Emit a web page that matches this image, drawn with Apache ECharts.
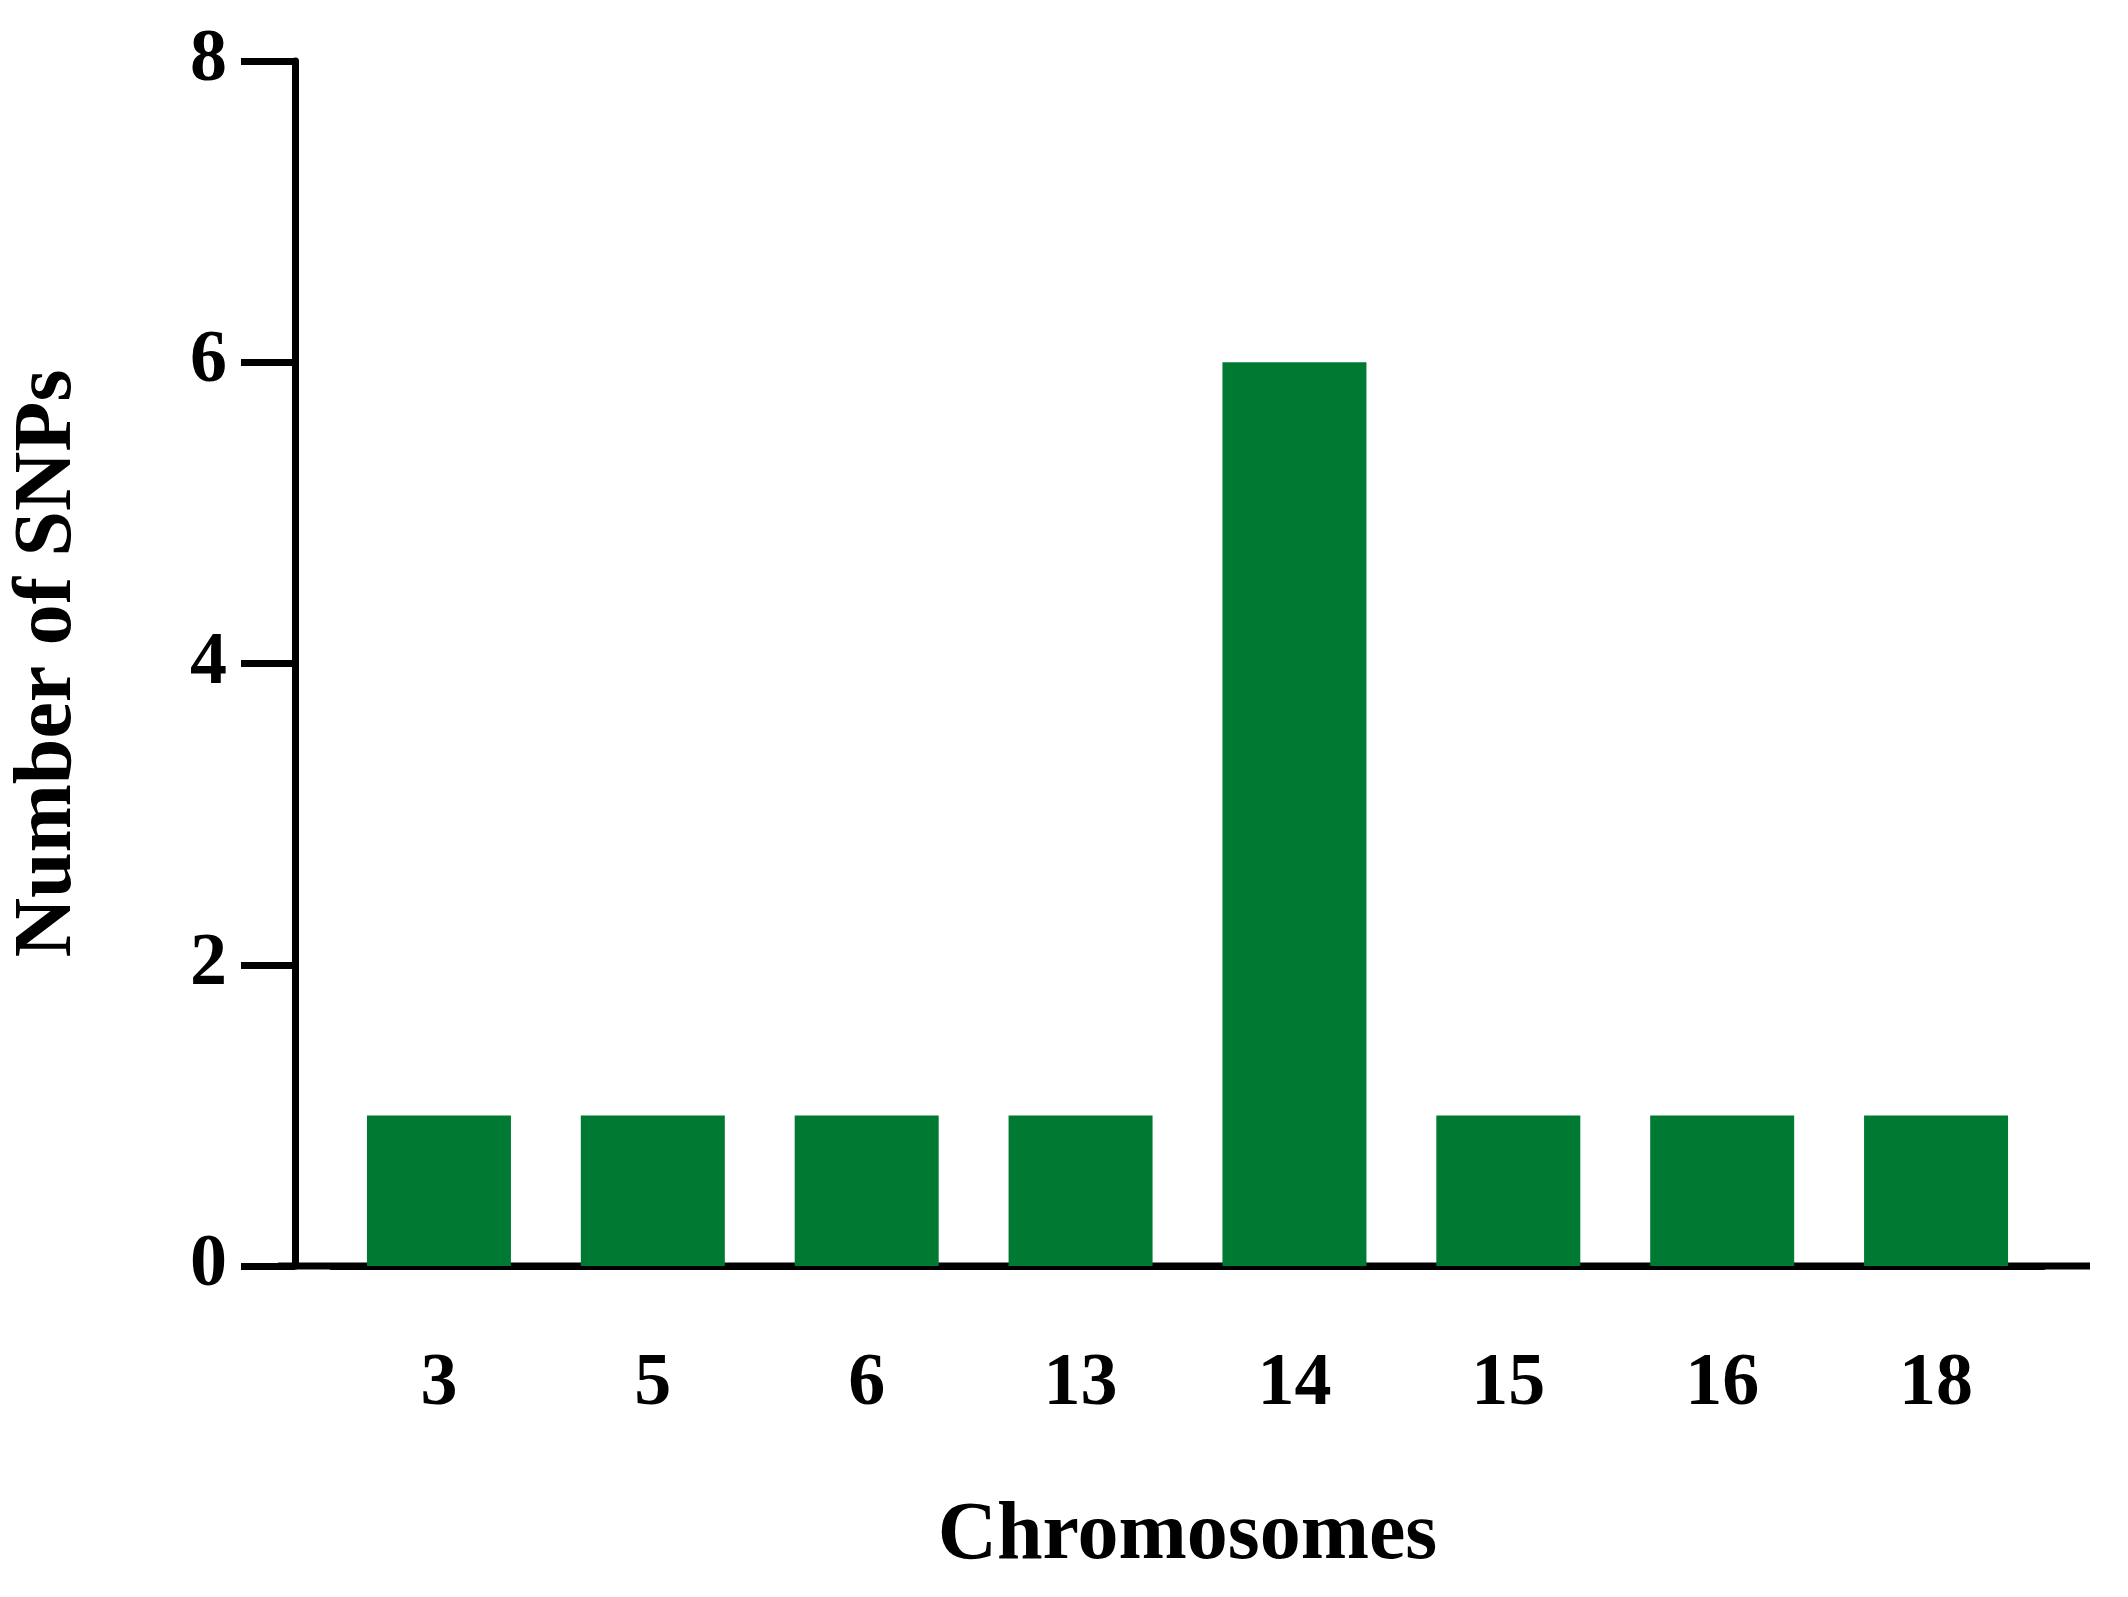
<!DOCTYPE html>
<html><head><meta charset="utf-8">
<script src="https://cdn.jsdelivr.net/npm/echarts@6/dist/echarts.min.js"></script>
<style>html,body{margin:0;background:#fff}#c{width:2128px;height:1597px}</style>
</head><body><div id="c"></div>
<script>
var chromosomes = ['3', '5', '6', '13', '14', '15', '16', '18'];
var snpCounts = [1, 1, 1, 1, 6, 1, 1, 1];
var yTicks = [0, 2, 4, 6, 8];

var font = '"Liberation Serif", "Times New Roman", serif';
var chart = echarts.init(document.getElementById('c'));
chart.setOption({
	animation: false,
	grid: { left: 315, right: 85, top: 61, bottom: 331 },
	xAxis: {
		type: 'category',
		data: chromosomes,
		name: 'Chromosomes',
		nameLocation: 'middle',
		nameGap: 230,
		nameTextStyle: { fontFamily: font, fontWeight: 'bold', fontSize: 82, color: '#000' },
		axisLine: { lineStyle: { color: '#000', width: 7 } },
		axisTick: { alignWithLabel: true, length: 50, lineStyle: { color: '#000', width: 7 } },
		axisLabel: { margin: 82, fontFamily: font, fontWeight: 'bold', fontSize: 74, color: '#000' }
	},
	yAxis: {
		type: 'value',
		min: yTicks[0], max: yTicks[yTicks.length - 1], interval: 2,
		offset: 37,
		name: 'Number of SNPs',
		nameLocation: 'middle',
		nameGap: 205,
		nameTextStyle: { fontFamily: font, fontWeight: 'bold', fontSize: 82, color: '#000' },
		splitLine: { show: false },
		axisLine: { show: true, lineStyle: { color: '#000', width: 7 } },
		axisTick: { show: true, length: 54, lineStyle: { color: '#000', width: 7 } },
		axisLabel: { margin: 68, fontFamily: font, fontWeight: 'bold', fontSize: 74, color: '#000' }
	},
	series: [{
		type: 'bar',
		data: snpCounts,
		barWidth: 144,
		itemStyle: { color: '#007a33' }
	}]
});

// extend the x axis line from the offset y axis to the right end
var zero = chart.convertToPixel({ yAxisIndex: 0 }, 0);
chart.setOption({
	graphic: [{
		type: 'line',
		shape: { x1: 278, y1: zero, x2: 2090, y2: zero },
		style: { stroke: '#000', lineWidth: 7 }
	}]
});
</script>
</body></html>
